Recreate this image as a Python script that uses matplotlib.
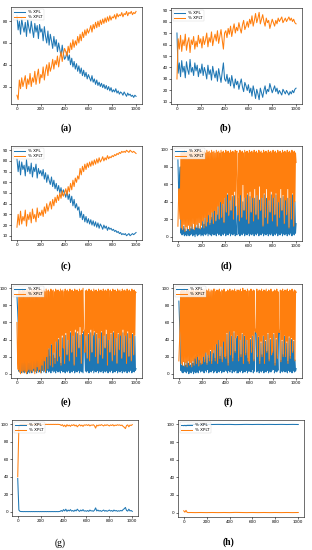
import numpy as np
import matplotlib
matplotlib.use("Agg")
import matplotlib.pyplot as plt

# (a)  sampled every 10 iterations
a_xpl = [85, 72, 80, 68, 82, 75, 70, 79, 66, 81, 74, 69, 80, 72, 65, 78, 70, 76, 64, 77, 70,
         73, 62, 75, 66, 60, 71, 58, 68, 62, 55, 66, 57, 63, 52, 60, 54, 48, 58, 50, 45,
         47, 52, 44, 49, 40, 46, 38, 43, 36, 41, 34, 39, 32, 37, 30, 35, 29, 33, 27, 31,
         28, 25, 30, 24, 27, 22, 26, 21, 24, 20, 23, 19, 22, 18, 21, 17, 20, 16, 19, 15,
         17, 15, 18, 14, 16, 13, 15, 14, 12, 15, 13, 11, 14, 12, 13, 11, 12, 10, 12, 11]
a_xplt = [12, 8, 26, 18, 28, 20, 25, 30, 18, 27, 22, 32, 20, 28, 24, 34, 22, 30, 36, 23, 31,
          28, 38, 26, 35, 40, 30, 42, 34, 38, 45, 36, 44, 40, 48, 38, 46, 52, 43, 50, 55,
          52, 48, 57, 51, 60, 54, 63, 56, 62, 58, 66, 60, 68, 62, 70, 65, 72, 67, 73, 69,
          72, 76, 70, 77, 73, 79, 74, 80, 75, 81, 77, 82, 78, 83, 79, 84, 80, 85, 81, 84,
          83, 86, 82, 87, 84, 86, 85, 88, 84, 87, 86, 89, 85, 88, 87, 89, 86, 88, 87, 89]

# (b)
b_xpl = [70, 35, 44, 32, 46, 36, 41, 31, 45, 38, 34, 47, 36, 40, 33, 44, 37, 42, 32, 39, 35,
         43, 33, 40, 36, 30, 42, 34, 38, 29, 41, 35, 31, 37, 28, 39, 33, 27, 36, 44, 30,
         28, 34, 26, 31, 24, 33, 27, 22, 30, 25, 28, 21, 26, 30, 23, 19, 27, 24, 20, 25,
         18, 22, 15, 24, 19, 13, 21, 17, 12, 22, 18, 14, 20, 24, 17, 21, 19, 26, 22, 18,
         21, 24, 19, 22, 17, 20, 18, 16, 21, 19, 17, 20, 18, 16, 19, 17, 20, 18, 21, 22]
b_xplt = [30, 65, 56, 68, 54, 64, 59, 69, 55, 62, 66, 53, 64, 60, 67, 56, 63, 58, 68, 61, 65,
          57, 67, 60, 64, 70, 58, 66, 62, 71, 59, 65, 69, 63, 72, 61, 67, 73, 64, 56, 70,
          72, 66, 74, 69, 76, 67, 73, 78, 70, 75, 72, 79, 74, 70, 77, 81, 73, 76, 80, 75,
          82, 78, 85, 76, 81, 87, 79, 83, 88, 78, 82, 86, 80, 76, 83, 79, 81, 74, 78, 82,
          79, 76, 81, 78, 83, 80, 82, 84, 79, 81, 83, 80, 82, 84, 81, 83, 80, 82, 79, 78]

# (c)
c_xpl = [82, 70, 80, 67, 79, 72, 76, 66, 81, 70, 75, 68, 78, 65, 74, 70, 77, 64, 73, 68, 71,
         66, 72, 63, 69, 60, 67, 62, 58, 65, 56, 62, 54, 59, 52, 57, 50, 55, 48, 53, 50,
         46, 52, 44, 49, 41, 47, 38, 44, 36, 40, 34, 37, 27, 33, 25, 30, 23, 28, 22, 26,
         21, 25, 20, 24, 19, 23, 18, 22, 17, 21, 19, 16, 20, 17, 19, 15, 18, 16, 17, 15,
         16, 14, 15, 13, 14, 12, 13, 11, 12, 11, 12, 10, 11, 12, 10, 11, 12, 11, 12, 13]
c_xplt = [18, 30, 20, 33, 21, 28, 24, 34, 19, 30, 25, 32, 22, 35, 26, 30, 23, 36, 27, 32, 29,
          34, 28, 37, 31, 40, 33, 38, 42, 35, 44, 38, 46, 41, 48, 43, 50, 45, 52, 47, 50,
          54, 48, 56, 51, 59, 53, 62, 56, 64, 60, 66, 63, 73, 67, 75, 70, 77, 72, 78, 74,
          79, 75, 80, 76, 81, 77, 82, 78, 83, 79, 81, 84, 80, 83, 81, 85, 82, 84, 83, 85,
          84, 86, 85, 87, 86, 88, 87, 89, 88, 89, 88, 90, 89, 88, 90, 89, 88, 89, 88, 87]

# (d)  sampled every 5 iterations
d_xpl = [88, 60, 45, 70, 80, 4, 10, 2, 8, 3, 12, 1, 9, 2, 6, 1, 10, 3, 8, 1,
         12, 2, 9, 3, 14, 1, 8, 2, 11, 0, 13, 3, 10, 1, 15, 2, 9, 3, 12, 1,
         10, 2, 18, 1, 14, 3, 22, 2, 12, 4, 20, 1, 25, 3, 15, 2, 22, 1, 28, 3,
         15, 2, 30, 3, 18, 1, 25, 4, 35, 2, 20, 3, 40, 1, 22, 3, 38, 2, 16, 4,
         45, 1, 28, 3, 48, 2, 24, 4, 42, 1, 30, 3, 46, 2, 20, 4, 47, 1, 35, 3,
         2, 25, 44, 3, 18, 1, 48, 3, 22, 2, 40, 4, 30, 1, 45, 3, 20, 2, 48, 4,
         15, 1, 46, 3, 28, 2, 45, 4, 18, 1, 44, 3, 25, 2, 48, 4, 20, 1, 42, 3,
         30, 2, 45, 4, 12, 1, 48, 3, 22, 2, 44, 4, 15, 1, 42, 3, 28, 2, 48, 4,
         18, 1, 45, 3, 25, 2, 48, 4, 12, 1, 40, 3, 22, 2, 44, 4, 30, 1, 46, 3,
         15, 2, 42, 4, 25, 1, 44, 3, 10, 2, 45, 4, 20, 1, 48, 3, 12, 2, 40, 4,
         15]
d_xplt = [12, 40, 55, 30, 20, 96, 10, 98, 8, 97, 14, 99, 6, 96, 11, 98, 9, 97, 13, 99,
          7, 98, 12, 96, 9, 99, 15, 97, 8, 98, 11, 96, 14, 99, 10, 97, 16, 98, 9, 96,
          13, 99, 18, 97, 10, 98, 22, 96, 12, 99, 17, 97, 25, 98, 14, 96, 20, 99, 28, 97,
          15, 98, 30, 96, 18, 99, 25, 97, 35, 98, 20, 96, 40, 99, 22, 97, 38, 98, 16, 96,
          45, 99, 28, 97, 50, 98, 24, 96, 42, 99, 30, 97, 48, 98, 20, 96, 52, 99, 35, 97,
          98, 25, 55, 96, 18, 99, 48, 97, 22, 98, 60, 96, 30, 99, 45, 97, 20, 98, 50, 96,
          15, 99, 52, 97, 28, 98, 45, 96, 18, 99, 55, 97, 25, 98, 48, 96, 20, 99, 58, 97,
          30, 98, 45, 96, 12, 99, 50, 97, 22, 98, 55, 96, 15, 99, 42, 97, 28, 98, 52, 96,
          18, 99, 45, 97, 25, 98, 50, 96, 12, 99, 40, 97, 22, 98, 55, 96, 30, 99, 48, 97,
          15, 98, 42, 96, 25, 99, 55, 97, 10, 98, 45, 96, 20, 99, 50, 97, 12, 98, 40, 96,
          85]

# (e)
e_xpl = [92, 75, 60, 3, 18, 2, 15, 1, 20, 3, 12, 2, 16, 1, 18, 3, 14, 0, 19, 2,
         12, 1, 17, 3, 20, 1, 14, 4, 18, 2, 16, 3, 20, 1, 15, 4, 19, 2, 13, 3,
         18, 1, 22, 4, 30, 2, 32, 3, 25, 1, 35, 4, 28, 2, 36, 3, 20, 1, 34, 4,
         22, 2, 25, 3, 18, 1, 38, 4, 15, 2, 40, 3, 20, 1, 12, 4, 42, 2, 30, 3,
         12, 1, 45, 3, 22, 2, 40, 4, 15, 1, 48, 3, 25, 2, 45, 4, 10, 1, 48, 3,
         20, 2, 47, 4, 30, 1, 45, 3, 12, 2, 46, 1, 48, 50, 25, 3, 45, 2, 18, 4,
         46, 1, 15, 3, 48, 2, 25, 4, 45, 1, 48, 3, 20, 2, 46, 4, 12, 1, 42, 3,
         22, 2, 48, 4, 18, 1, 45, 3, 30, 2, 46, 4, 10, 1, 40, 3, 25, 2, 46, 4,
         15, 1, 48, 3, 22, 2, 42, 4, 12, 1, 46, 3, 28, 2, 45, 4, 18, 1, 48, 3,
         25, 2, 45, 4, 12, 1, 47, 3, 20, 2, 42, 4, 15, 1, 46, 3, 22, 2, 44, 4,
         6]
e_xplt = [60, 20, 5, 97, 2, 98, 0, 96, 3, 99, 1, 97, 4, 98, 2, 96, 0, 99, 3, 97,
          5, 98, 1, 96, 4, 99, 2, 97, 6, 98, 0, 96, 3, 99, 8, 97, 2, 98, 5, 96,
          1, 99, 10, 97, 4, 98, 15, 96, 2, 99, 20, 97, 6, 98, 30, 96, 10, 99, 35, 97,
          8, 98, 25, 96, 12, 99, 38, 97, 15, 98, 42, 96, 20, 99, 10, 97, 45, 98, 30, 96,
          12, 99, 48, 97, 22, 98, 40, 96, 15, 99, 50, 97, 25, 98, 45, 96, 10, 99, 52, 97,
          20, 98, 50, 96, 30, 99, 55, 97, 12, 98, 48, 100, 52, 50, 25, 97, 45, 98, 18, 96,
          48, 99, 15, 97, 52, 98, 25, 96, 45, 99, 50, 97, 20, 98, 48, 96, 12, 99, 42, 97,
          22, 98, 50, 96, 18, 99, 45, 97, 30, 98, 52, 96, 10, 99, 40, 97, 25, 98, 48, 96,
          15, 99, 50, 97, 22, 98, 42, 96, 12, 99, 48, 97, 28, 98, 45, 96, 18, 99, 52, 97,
          25, 98, 45, 96, 12, 99, 50, 97, 20, 98, 42, 96, 15, 99, 48, 97, 22, 98, 45, 96,
          95]

# (f)
f_xpl = [85, 65, 45, 4, 10, 2, 12, 1, 9, 3, 14, 2, 10, 1, 15, 3, 12, 0, 18, 2,
         10, 1, 15, 3, 12, 0, 18, 2, 20, 1, 14, 3, 22, 1, 16, 4, 18, 2, 12, 3,
         14, 3, 22, 1, 16, 4, 28, 2, 12, 5, 25, 1, 18, 3, 26, 2, 14, 4, 24, 1,
         30, 2, 18, 4, 36, 1, 15, 3, 42, 2, 20, 4, 32, 1, 16, 3, 38, 2, 22, 4,
         20, 3, 46, 1, 12, 4, 50, 2, 24, 5, 44, 1, 18, 3, 48, 2, 26, 4, 42, 1,
         44, 1, 18, 3, 40, 2, 22, 4, 46, 1, 14, 3, 44, 2, 24, 4, 40, 1, 18, 3,
         14, 3, 40, 2, 26, 5, 44, 1, 16, 3, 48, 50, 46, 2, 22, 4, 43, 1, 14, 3,
         36, 2, 22, 4, 44, 1, 14, 3, 38, 2, 26, 4, 46, 1, 16, 3, 40, 2, 22, 4,
         26, 5, 46, 1, 12, 3, 40, 2, 20, 4, 48, 47, 50, 1, 15, 3, 38, 2, 22, 4,
         44, 2, 22, 3, 36, 1, 14, 4, 42, 2, 20, 3, 40, 1, 26, 4, 38, 2, 16, 3,
         6]
f_xplt = [15, 35, 55, 96, 12, 98, 10, 97, 14, 99, 9, 96, 13, 98, 8, 97, 15, 99, 10, 96,
          13, 98, 8, 97, 15, 99, 10, 96, 18, 98, 12, 97, 20, 99, 9, 96, 16, 98, 11, 97,
          12, 97, 20, 99, 14, 96, 25, 98, 11, 97, 22, 99, 15, 96, 28, 98, 12, 97, 24, 99,
          28, 99, 15, 96, 35, 98, 12, 97, 40, 99, 18, 96, 32, 98, 14, 97, 38, 99, 20, 96,
          18, 96, 48, 98, 10, 97, 50, 99, 22, 96, 45, 98, 15, 97, 50, 99, 25, 96, 42, 98,
          45, 98, 15, 97, 40, 99, 20, 96, 48, 100, 12, 97, 45, 98, 22, 96, 40, 99, 15, 97,
          12, 97, 42, 99, 25, 96, 45, 98, 15, 97, 50, 52, 48, 99, 20, 96, 44, 98, 12, 97,
          38, 99, 20, 96, 45, 98, 12, 97, 40, 99, 25, 96, 48, 98, 15, 97, 42, 99, 22, 96,
          25, 96, 48, 98, 10, 97, 42, 99, 18, 96, 50, 48, 52, 98, 14, 97, 40, 99, 20, 96,
          45, 98, 20, 97, 38, 99, 12, 96, 44, 98, 18, 97, 42, 99, 25, 96, 40, 98, 15, 97,
          95]

# (g)  sampled every 10 iterations
g_xpl = [38, 2, 0.5, 0.3, 0.3, 0.2, 0.3, 0.2, 0.3, 0.2, 0.3,
         0.2, 0.3, 0.2, 0.3, 0.2, 0.3, 0.2, 0.3, 0.2, 0.3,
         0.2, 0.3, 0.2, 0.3, 0.2, 0.3, 0.2, 0.3, 0.2, 0.3,
         0.2, 0.3, 0.2, 0.3, 0.2, 0.3, 0.5, 1.5, 0.5, 2.5,
         1, 3, 0.5, 2, 1, 2.5, 0.8, 1.5, 0.5, 2,
         1, 3, 1.5, 0.5, 2, 1, 2.5, 0.8, 1.2, 0.6,
         1.5, 0.5, 2, 1, 1.2, 0.6, 1.8, 4.5, 1, 2,
         0.8, 1.5, 0.5, 1.2, 2, 0.7, 1.5, 0.6, 1.2, 2,
         0.8, 1.5, 0.5, 2, 1, 1.5, 0.6, 1.2, 0.8, 1.6,
         1, 2.5, 3.5, 5, 1.5, 0.8, 3, 1, 1.5, 0.5]
g_xplt = [40, 97, 99.5, 99.7, 99.7, 99.8, 99.7, 99.8, 99.7, 99.8, 99.7,
          99.8, 99.7, 99.8, 99.7, 99.8, 99.7, 99.8, 99.7, 99.8, 99.7,
          99.8, 99.7, 99.8, 99.7, 99.8, 99.7, 99.8, 99.7, 99.8, 99.7,
          99.8, 99.7, 99.8, 99.7, 99.8, 99.7, 99.5, 98.5, 99.5, 97.5,
          99, 97, 99.5, 98, 99, 97.5, 99.2, 98.5, 99.5, 98,
          99, 97, 98.5, 99.5, 98, 99, 97.5, 99.2, 98.8, 99.4,
          98.5, 99.5, 98, 99, 98.8, 99.4, 98.2, 95.5, 99, 98,
          99.2, 98.5, 99.5, 98.8, 98, 99.3, 98.5, 99.4, 98.8, 98,
          99.2, 98.5, 99.5, 98, 99, 98.5, 99.4, 98.8, 99.2, 98.4,
          99, 97.5, 96.5, 95, 98.5, 99.2, 97, 99, 98.5, 99.5]

# (h)
h_iter = [0, 10, 20, 30, 40, 60, 100, 150, 200, 250, 300, 350, 400, 450, 500,
          550, 600, 650, 700, 750, 800, 850, 900, 950, 1000]
h_xpl = [98, 99.5, 97.5, 99.8, 100, 99.9, 100, 99.9, 100, 99.9, 100, 99.9, 100,
         99.8, 99.9, 100, 99.9, 100, 99.9, 100, 99.9, 100, 99.9, 100, 99.9]
h_xplt = [2, 0.5, 2.5, 0.2, 0, 0.1, 0, 0.1, 0, 0.1, 0, 0.1, 0,
          0.2, 0.1, 0, 0.1, 0, 0.1, 0, 0.1, 0, 0.1, 0, 0.1]

W, H = 312, 550
fig = plt.figure(figsize=(W / 100, H / 100), dpi=100)


def iters(vals):
    # iterations 0..1000 at the sampling step of the list
    return np.linspace(0, 1000, len(vals))


ticks10 = list(range(10, 91, 10))
ticks20 = list(range(0, 101, 20))

# panel boxes in pixels: left, right, top, bottom ; caption centre x, y
panels = [
    ("(a)", None, a_xpl, a_xplt, (11, 142, 7, 104), (66, 128), [20, 40, 60, 80], True),
    ("(b)", None, b_xpl, b_xplt, (171, 302, 8, 104), (226, 128), ticks10, True),
    ("(c)", None, c_xpl, c_xplt, (11, 142, 146, 240), (66, 266), ticks10, True),
    ("(d)", None, d_xpl, d_xplt, (172, 302, 146, 241), (226, 266), ticks20, True),
    ("(e)", None, e_xpl, e_xplt, (11, 142, 284, 378), (66, 402), ticks20, True),
    ("(f)", None, f_xpl, f_xplt, (173, 302, 284, 378), (228, 402), ticks20, True),
    ("(g)", None, g_xpl, g_xplt, (12, 138, 420, 516), (60, 543), ticks20, False),
    ("(h)", h_iter, h_xpl, h_xplt, (178, 304, 420, 517), (229, 542), ticks20, True),
]

for cap, x, blue, orange, (l, r, t, b), (cx, cy), yt, bold in panels:
    ax = fig.add_axes([l / W, 1 - b / H, (r - l) / W, (b - t) / H])
    xb = iters(blue) if x is None else x
    xo = iters(orange) if x is None else x
    ax.plot(xb, blue, color="#1f77b4", lw=0.75, label="% XPL")
    ax.plot(xo, orange, color="#ff7f0e", lw=0.75, label="% XPLT")
    ax.set_xticks([0, 200, 400, 600, 800, 1000])
    ax.set_yticks(yt)
    ax.tick_params(labelsize=3, length=1.5, width=0.4, pad=1)
    for s in ax.spines.values():
        s.set_linewidth(0.4)
    leg = ax.legend(loc="upper left", fontsize=3, handlelength=2.5, borderpad=0.3,
                    labelspacing=0.2, framealpha=0.8, edgecolor="0.8")
    leg.get_frame().set_linewidth(0.3)
    fig.text(cx / W, 1 - cy / H, cap, ha="center", va="center",
             family="Liberation Serif", fontsize=7,
             fontweight="bold" if bold else "normal")

fig.savefig("out.png", dpi=100)
